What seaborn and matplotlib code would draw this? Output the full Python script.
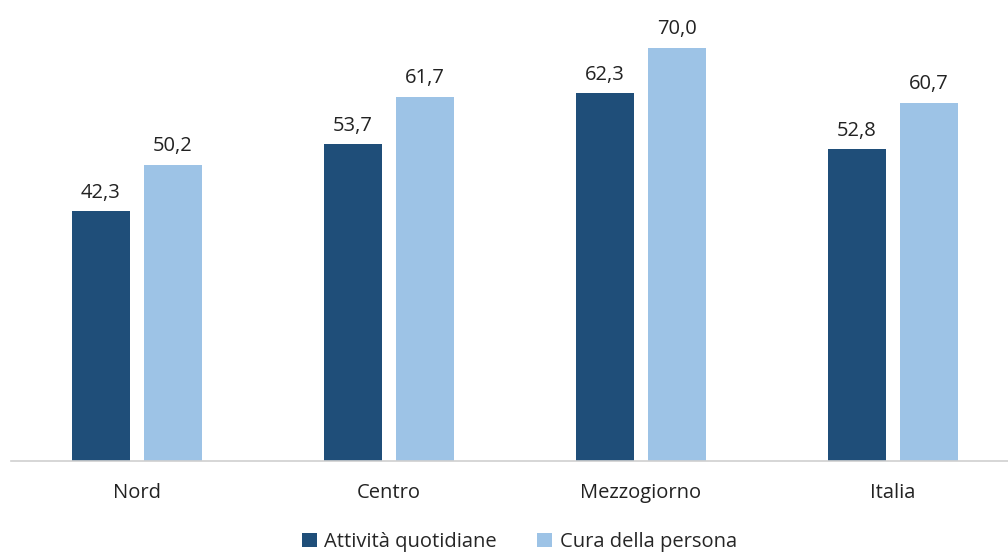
import matplotlib
matplotlib.use("Agg")
import matplotlib.pyplot as plt
import seaborn as sns
import pandas as pd

categories = ["Nord", "Centro", "Mezzogiorno", "Italia"]
series_names = ["Attività quotidiane", "Cura della persona"]
attivita = [42.3, 53.7, 62.3, 52.8]
cura = [50.2, 61.7, 70.0, 60.7]
colors = ["#1F4E79", "#9DC3E6"]

df = pd.DataFrame({
    "area": categories * 2,
    "serie": [series_names[0]] * 4 + [series_names[1]] * 4,
    "valore": attivita + cura,
})

sns.set_theme(style="white")
plt.rcParams["font.family"] = ["Open Sans", "DejaVu Sans"]

fig = plt.figure(figsize=(10.08, 5.54), dpi=100)
ax = fig.add_axes([11 / 1008, 93 / 554, 997 / 1008, 461 / 554])

sns.barplot(data=df, x="area", y="valore", hue="serie", palette=colors,
            saturation=1, width=0.572, gap=0.19, linewidth=0,
            ax=ax, legend=True)

ax.set_ylim(0, 78.1)
ax.set_xlim(-0.5, -0.5 + 997 / 252)
ax.set_xlabel("")
ax.set_ylabel("")
ax.set_yticks([])
ax.tick_params(axis="x", length=0, labelsize=14.5, pad=16, colors="#222222")
for side in ["top", "right", "left"]:
    ax.spines[side].set_visible(False)
ax.spines["bottom"].set_color("#d0d0d0")
ax.spines["bottom"].set_linewidth(1.2)

for cont in ax.containers:
    ax.bar_label(cont, labels=[f"{v:.1f}".replace(".", ",") for v in cont.datavalues],
                 padding=6, fontsize=14.5, color="#222222")

leg = ax.legend(loc="center", bbox_to_anchor=(0.51, -0.176), ncol=2,
                frameon=False, fontsize=14.5, handlelength=0.75, handleheight=0.75,
                handletextpad=0.35, columnspacing=2.0, borderpad=0.1)

fig.savefig("out.png", dpi=100)
